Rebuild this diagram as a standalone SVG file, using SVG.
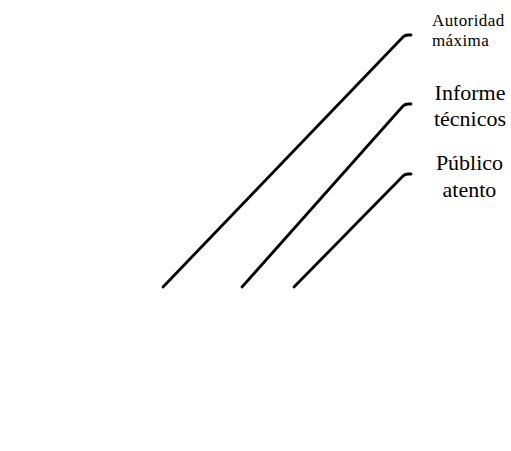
<svg xmlns="http://www.w3.org/2000/svg" width="511" height="451" viewBox="0 0 511 451">
<style>
.lbl{font-family:"Liberation Serif","Times New Roman",serif;fill:#000}
.small{font-size:17px;letter-spacing:0.4px}
.big{font-size:22px}
.ln{fill:none;stroke:#000;stroke-width:2.8;stroke-linecap:round;stroke-linejoin:round}
</style>
<rect width="511" height="451" fill="#fff"/>
<g id="connectors">
<path class="ln" d="M163,287 L403,37 Q405,35 408,35 L411,35"/>
<path class="ln" d="M242,287 L403,106 Q405,104 408,104 L411,104"/>
<path class="ln" d="M294,287 L403,176 Q405,174 408,174 L411,174"/>
</g>
<g id="autoridad">
<text class="lbl small" x="432" y="26">Autoridad</text>
<text class="lbl small" x="432" y="46">máxima</text>
</g>
<g id="informe">
<text class="lbl big" x="470" y="99.5" text-anchor="middle">Informe</text>
<text class="lbl big" x="470" y="125.5" text-anchor="middle">técnicos</text>
</g>
<g id="publico">
<text class="lbl big" x="469.5" y="170" text-anchor="middle">Público</text>
<text class="lbl big" x="469.5" y="196.5" text-anchor="middle">atento</text>
</g>
</svg>
